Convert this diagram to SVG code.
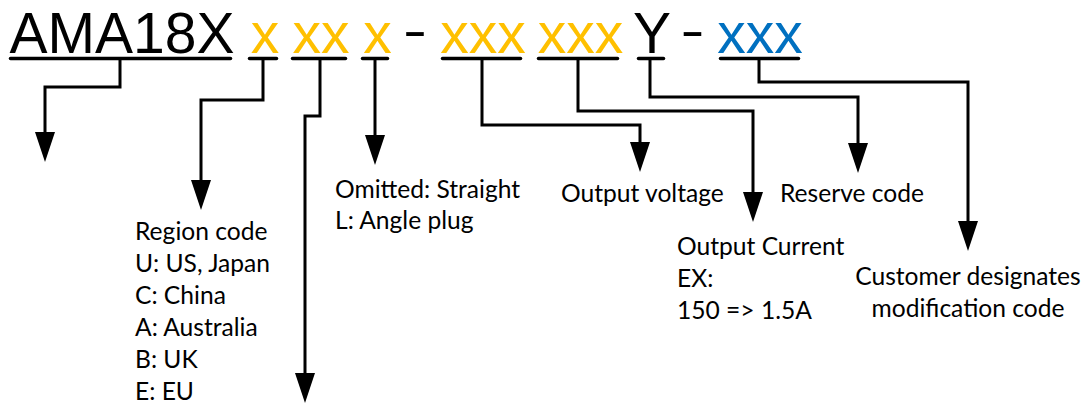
<svg xmlns="http://www.w3.org/2000/svg" width="1086" height="404" viewBox="0 0 1086 404">
  <style>
    .title { font-family: "Liberation Sans", Arial, sans-serif; font-size: 57px; text-anchor: middle; }
    .dash { font-family: "Liberation Sans", Arial, sans-serif; font-size: 50px; text-anchor: middle; fill: #000000; }
    .blk { fill: #000000; }
    .yel { fill: #FFC000; }
    .blu { fill: #0070C0; }
    .ul { stroke: #000000; stroke-width: 3.5; stroke-linecap: round; fill: none; }
    .conn { stroke: #000000; stroke-width: 3; fill: none; stroke-linejoin: miter; marker-end: url(#arrow); }
    .lbl { font-family: Lato, "Liberation Sans", sans-serif; font-size: 24.6px; fill: #000000; }
    .mid { text-anchor: middle; }
  </style>
  <defs>
    <marker id="arrow" viewBox="0 0 30 20" refX="0" refY="10" markerWidth="30" markerHeight="20" markerUnits="userSpaceOnUse" orient="auto">
      <path d="M0,0 L30,10 L0,20 Z" fill="#000000"/>
    </marker>
  </defs>

  <g id="code">
    <text class="title blk" x="122" y="52.5">AMA18X</text>
    <text class="title yel" x="265" y="52.5">x</text>
    <text class="title yel" x="321" y="52.5">xx</text>
    <text class="title yel" x="377.5" y="52.5">x</text>
    <text class="dash" x="415" y="46.5" textLength="24" lengthAdjust="spacingAndGlyphs">-</text>
    <text class="title yel" x="483" y="52.5">xxx</text>
    <text class="title yel" x="580.5" y="52.5">xxx</text>
    <text class="title blk" x="652" y="52.5">Y</text>
    <text class="dash" x="692.5" y="46.5" textLength="24" lengthAdjust="spacingAndGlyphs">-</text>
    <text class="title blu" x="760" y="52.5">xxx</text>
  </g>

  <g id="underlines">
    <line class="ul" x1="10.5" y1="58.5" x2="230.5" y2="58.5"/>
    <line class="ul" x1="249.5" y1="58.5" x2="276.5" y2="58.5"/>
    <line class="ul" x1="292.5" y1="58.5" x2="345.5" y2="58.5"/>
    <line class="ul" x1="362.5" y1="58.5" x2="387.5" y2="58.5"/>
    <line class="ul" x1="442.5" y1="58.5" x2="520.5" y2="58.5"/>
    <line class="ul" x1="538.5" y1="58.5" x2="617.5" y2="58.5"/>
    <line class="ul" x1="638.5" y1="58.5" x2="663.5" y2="58.5"/>
    <line class="ul" x1="720.5" y1="58.5" x2="798.5" y2="58.5"/>
  </g>

  <g id="connectors">
    <path class="conn" d="M120,59 V87 H45 V132"/>
    <path class="conn" d="M263,59 V100 H201 V180"/>
    <path class="conn" d="M320,59 V116 H305 V373"/>
    <path class="conn" d="M375,59 V135"/>
    <path class="conn" d="M482,59 V125 H640 V142"/>
    <path class="conn" d="M578,59 V111 H753 V192"/>
    <path class="conn" d="M650,59 V97 H858 V143"/>
    <path class="conn" d="M759,59 V82 H968 V221"/>
  </g>

  <g id="region">
    <text class="lbl" x="135" y="240">Region code</text>
    <text class="lbl" x="135" y="272">U: US, Japan</text>
    <text class="lbl" x="135" y="304">C: China</text>
    <text class="lbl" x="135" y="336">A: Australia</text>
    <text class="lbl" x="135" y="368">B: UK</text>
    <text class="lbl" x="135" y="400">E: EU</text>
  </g>

  <g id="plug">
    <text class="lbl" x="335" y="198">Omitted: Straight</text>
    <text class="lbl" x="335" y="229">L: Angle plug</text>
  </g>

  <g id="voltage">
    <text class="lbl" x="561" y="202">Output voltage</text>
  </g>

  <g id="reserve">
    <text class="lbl" x="780" y="202">Reserve code</text>
  </g>

  <g id="current">
    <text class="lbl" x="677" y="255">Output Current</text>
    <text class="lbl" x="677" y="287">EX:</text>
    <text class="lbl" x="677" y="319">150 =&gt; 1.5A</text>
  </g>

  <g id="customer">
    <text class="lbl mid" x="968" y="285">Customer designates</text>
    <text class="lbl mid" x="968" y="317">modification code</text>
  </g>
</svg>
